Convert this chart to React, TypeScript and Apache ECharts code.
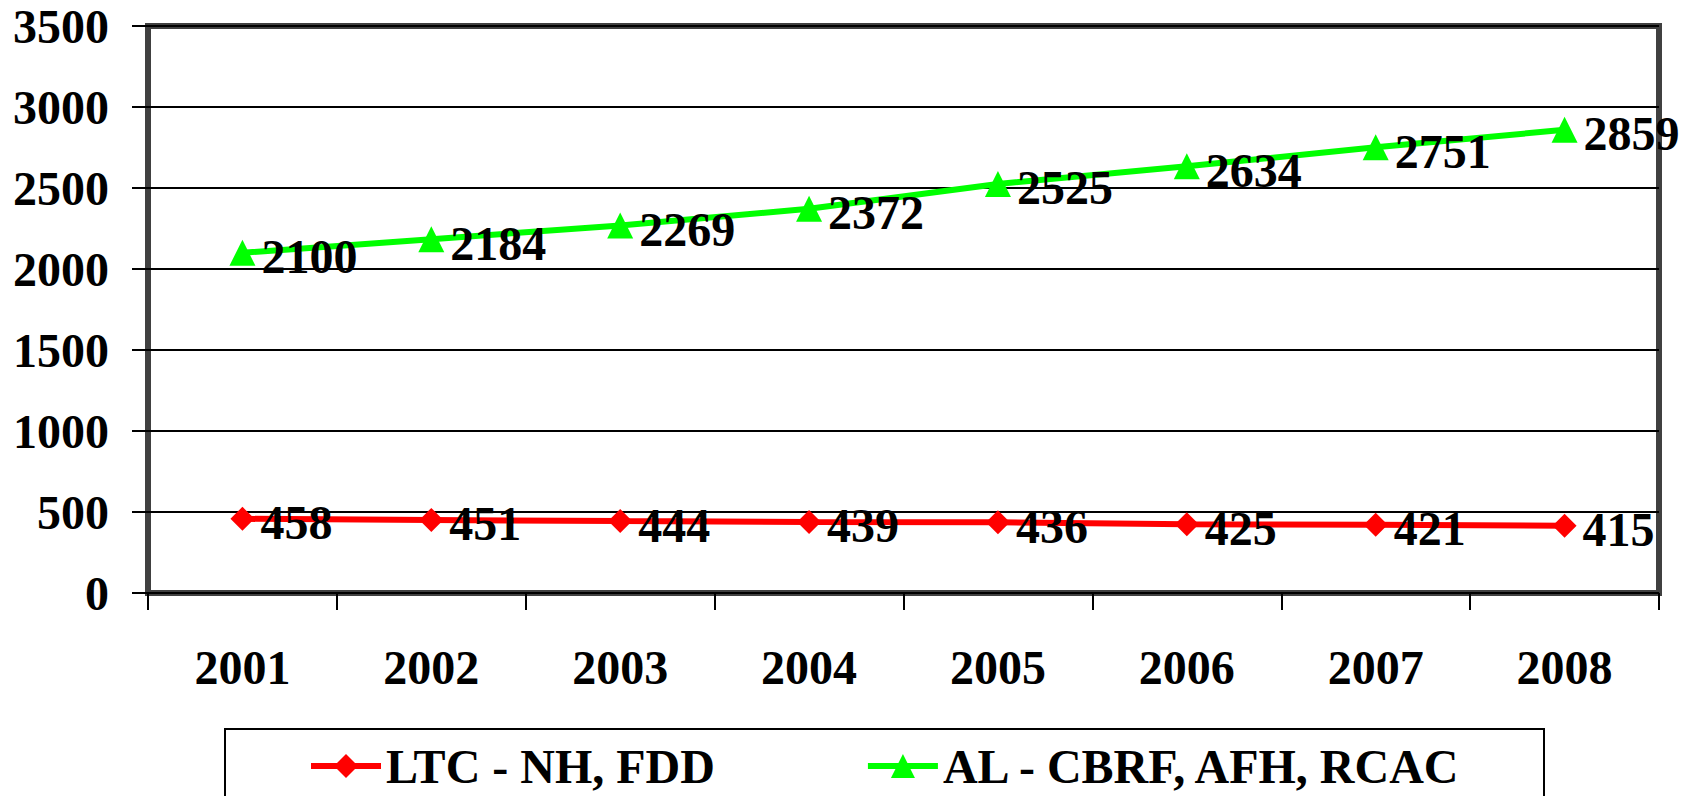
import React, { useEffect, useRef } from "react";
import * as echarts from "echarts";

const years = ["2001", "2002", "2003", "2004", "2005", "2006", "2007", "2008"];
const ltcValues = [458, 451, 444, 439, 436, 425, 421, 415];
const alValues = [2100, 2184, 2269, 2372, 2525, 2634, 2751, 2859];
const ltcName = "LTC - NH, FDD";
const alName = "AL - CBRF, AFH, RCAC";

const FONT = "'Liberation Serif', 'Times New Roman', serif";

export default function App() {
  const ref = useRef<HTMLDivElement>(null);
  useEffect(() => {
    document.body.style.margin = "0";
    const chart = echarts.init(ref.current!, null, { renderer: "svg" });
    const labelStyle = {
      show: true,
      position: "right" as const,
      distance: 6,
      offset: [0, 4],
      color: "#000",
      fontFamily: FONT,
      fontWeight: "bold" as const,
      fontSize: 48,
    };
    chart.setOption({
      animation: false,
      backgroundColor: "#fff",
      grid: {
        left: 148,
        top: 26,
        right: 1685 - 1659,
        bottom: 796 - 593,
        show: true,
        borderColor: "#404040",
        borderWidth: 6,
        backgroundColor: "transparent",
      },
      xAxis: {
        type: "category",
        data: years,
        boundaryGap: true,
        axisLine: { show: false },
        axisTick: { show: true, length: 17, lineStyle: { color: "#000", width: 2 } },
        axisLabel: {
          margin: 50,
          color: "#000",
          fontFamily: FONT,
          fontWeight: "bold",
          fontSize: 48,
        },
        splitLine: { show: false },
      },
      yAxis: {
        type: "value",
        min: 0,
        max: 3500,
        interval: 500,
        axisLine: { show: false },
        axisTick: { show: true, length: 16, lineStyle: { color: "#000", width: 2 } },
        axisLabel: {
          margin: 39,
          color: "#000",
          fontFamily: FONT,
          fontWeight: "bold",
          fontSize: 48,
          formatter: (v: number) => String(v),
        },
        splitLine: { show: true, lineStyle: { color: "#000", width: 2 } },
      },
      legend: {
        left: 303,
        top: 737,
        itemWidth: 70,
        itemHeight: 30,
        itemGap: 150,
        lineStyle: { width: 6 },
        textStyle: {
          color: "#000",
          fontFamily: FONT,
          fontWeight: "bold",
          fontSize: 48,
        },
        data: [ltcName, alName],
      },
      graphic: [
        {
          type: "rect",
          shape: { x: 225, y: 729, width: 1319, height: 100 },
          style: { fill: "none", stroke: "#000", lineWidth: 2 },
          z: 10,
        },
      ],
      series: [
        {
          name: ltcName,
          type: "line",
          data: ltcValues,
          symbol: "diamond",
          symbolSize: 24,
          color: "#ff0000",
          lineStyle: { color: "#ff0000", width: 6 },
          itemStyle: { color: "#ff0000" },
          label: labelStyle,
          z: 3,
        },
        {
          name: alName,
          type: "line",
          data: alValues,
          symbol: "triangle",
          symbolSize: 26,
          color: "#00ff00",
          lineStyle: { color: "#00ff00", width: 6 },
          itemStyle: { color: "#00ff00" },
          label: labelStyle,
          z: 3,
        },
      ],
    });
    return () => chart.dispose();
  }, []);
  return <div ref={ref} style={{ width: 1685, height: 796 }} />;
}
